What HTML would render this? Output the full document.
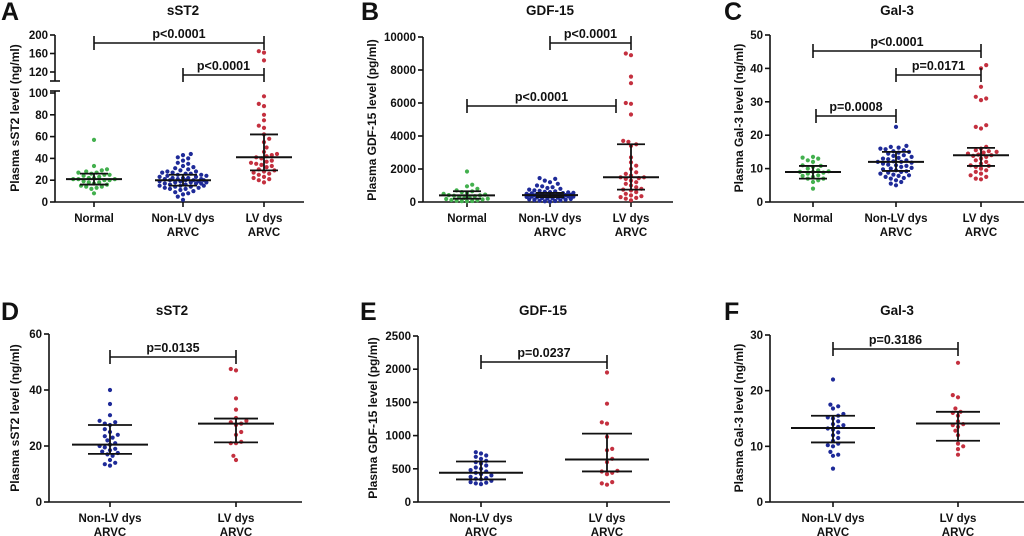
<!DOCTYPE html>
<html><head><meta charset="utf-8"><style>
html,body{margin:0;padding:0;background:#fff;}
svg{display:block;}
text{font-family:"Liberation Sans",Arial,sans-serif;font-weight:bold;fill:#111;}
</style></head>
<body>
<svg id="fig" width="1024" height="536" viewBox="0 0 1024 536" xmlns="http://www.w3.org/2000/svg"></svg>
<script>
// ===== Data =====
const catsTop = ["Normal", "Non-LV dys|ARVC", "LV dys|ARVC"];
const catsBottom = ["Non-LV dys|ARVC", "LV dys|ARVC"];

// Panel A sST2 (ng/ml)
const aNormal = [57,33,30,29,28,27,27,26,25,25,24,23,22,22,21,21,21,20,20,19,18,18,17,16,15,14,14,13,12,8];
const aNonLV = [44,43,41,40,38,36,35,33,32,31,30,29,28,28,27,27,26,26,25,25,24,24,23,23,22,22,22,21,21,21,20,20,20,20,19,19,19,18,18,18,17,17,17,16,16,15,15,15,14,14,13,13,12,12,11,10,9,8,7,5,2];
const aLV = [165,162,145,97,90,88,80,75,70,68,62,58,55,50,46,44,43,42,41,40,38,37,36,35,34,33,32,30,29,28,27,26,25,23,22,21,20,18];
const aMedian = [21,20,41];
const aQ1 = [16,15,29];
const aQ3 = [26,25,62];
const aTicksLow = [0,20,40,60,80,100];
const aTicksHigh = [120,160,200];

// Panel B GDF-15 (pg/ml)
const bNormal = [1850,1050,950,800,700,650,600,550,500,450,420,400,380,350,300,280,250,200,180,150,120,100,80,60,50,40];
const bNonLV = [1450,1400,1300,1200,1100,1000,950,900,850,800,750,700,680,650,620,600,580,560,540,520,500,480,470,460,450,440,430,420,410,400,390,380,370,360,350,340,330,320,310,300,280,260,240,220,200,180,160,140,120,100,80,60,40,20];
const bLV = [9000,8900,7600,7200,6000,5950,5300,3700,3650,3500,3400,2700,2400,2200,2000,1800,1700,1600,1500,1500,1450,1400,1300,1200,1100,1000,900,800,750,700,600,500,400,350,300,250,200,100];
const bMedian = [400,420,1500];
const bQ1 = [200,300,750];
const bQ3 = [650,550,3500];
const bTicks = [0,2000,4000,6000,8000,10000];

// Panel C Gal-3 (ng/ml)
const cNormal = [13.5,13.3,13,12.5,12,11,10.8,10.5,10,9.5,9.2,9,9,8.8,8.5,8,7.8,7.5,7,7,6.5,6,4];
const cNonLV = [22.5,16.8,16.5,16.3,16,15.8,15.5,15.2,15,14.8,14.5,14,13.8,13.5,13.2,13,12.8,12.5,12.2,12,12,11.8,11.5,11.2,11,10.8,10.5,10.2,10,9.8,9.5,9.2,9,8.8,8.5,8.2,8,7.8,7.5,7.2,7,6.5,6,5.5,5];
const cLV = [41,40,34.5,31.5,31,30.5,23,22.5,22,16.5,16,15.5,15.2,15,14.8,14.5,14.2,14,13.8,13.5,13,12.5,12,11.5,11,10.8,10.5,10,9.5,9,8.5,8,7.5,7,6.8];
const cMedian = [9,12,14];
const cQ1 = [7,9.3,10.8];
const cQ3 = [10.8,15,16.2];
const cTicks = [0,10,20,30,40,50];

// Panel D sST2
const dNonLV = [40,35,31,29,28.5,28,27.5,26,25,24,23.5,23,22,21,20.5,20,19.5,19,18.5,18,17.5,17,16.5,15,14,13.5,13];
const dLV = [47.5,47,37,33,30,29,28.5,28,27.5,25,24,21.5,21,21,16.5,15];
const dMedian = [20.5,28];
const dQ1 = [17.2,21.3];
const dQ3 = [27.5,29.8];
const dTicks = [0,20,40,60];

// Panel E GDF-15
const eNonLV = [750,730,700,680,650,620,600,580,550,520,500,480,460,440,420,400,380,360,350,340,320,300,290,280,270];
const eLV = [1950,1480,1200,1180,980,800,780,650,600,470,460,440,420,300,280,260];
const eMedian = [440,640];
const eQ1 = [340,460];
const eQ3 = [610,1030];
const eTicks = [0,500,1000,1500,2000,2500];

// Panel F Gal-3
const fNonLV = [22,17.5,17.2,16.8,15.8,15.5,15.2,15,14.5,14,13.8,13.5,13.2,13,12.5,12,11.5,11,10.5,10.2,10,9,8.5,8.3,6];
const fLV = [25,19.2,18.8,16.8,16.2,16,15.5,14.5,14,13.8,13.5,12.8,12,10.5,10,9.5,8.5];
const fMedian = [13.3,14.1];
const fQ1 = [10.7,11];
const fQ3 = [15.5,16.2];
const fTicks = [0,10,20,30];

// ===== Drawing =====
const NS = "http://www.w3.org/2000/svg";
const svg = document.getElementById("fig");
const COLORS = {Normal:"#43b04e", NonLV:"#1e2a98", LV:"#c4303f"};

function mk(tag, attrs, parent){
  const e = document.createElementNS(NS, tag);
  for (const k in attrs) e.setAttribute(k, attrs[k]);
  (parent||svg).appendChild(e);
  return e;
}
function line(g, x1,y1,x2,y2,w){
  return mk("line",{x1:x1,y1:y1,x2:x2,y2:y2,stroke:"#111","stroke-width":w||1.6},g);
}
function txt(g, x,y,s,size,anchor){
  const t = mk("text",{x:x,y:y,"font-size":size,"text-anchor":anchor||"middle"},g);
  t.textContent = s;
  return t;
}

// compact beeswarm capped at a maximum half-width
function swarm(vals, yfn, cx, r, cap){
  const pts = vals.map(v=>({y:yfn(v)})).sort((a,b)=>b.y-a.y);
  const placed = [];
  const d = 2*r+0.4;
  const step = 2.6;
  pts.forEach((p,idx)=>{
    let best = null, bestScore = -1;
    const n = Math.floor(cap/step);
    for (let k=0;k<=2*n;k++){
      const off = (k===0)?0:((k%2?1:-1)*Math.ceil(k/2)*step) * ((idx%2)?-1:1);
      const x = cx+off;
      let mind = 1e9;
      for (const q of placed){
        const dx=q.x-x, dy=q.y-p.y;
        const dd = Math.sqrt(dx*dx+dy*dy);
        if (dd<mind) mind=dd;
      }
      if (mind >= d){best=x;bestScore=1e9;break;}
      if (mind > bestScore){bestScore=mind;best=x;}
    }
    p.x = best;
    placed.push(p);
  });
  return placed;
}

function panel(cfg){
  const g = mk("g",{});
  
  
  const L = txt(g, cfg.letterX, cfg.top+20, cfg.letter, 25, "start");
  
  
  const T = txt(g, cfg.titleX, cfg.top+15, cfg.title, 13.5);
  
  
  const yt = txt(g, 0, 0, cfg.ytitle, 12);
  yt.setAttribute("transform", "translate("+(cfg.ytX+4)+","+cfg.ytY+") rotate(-90)");
  
  
  const ax = mk("g",{},g);
  
  
  cfg.axisSegs.forEach(s=>line(ax, cfg.x0, s[0], cfg.x0, s[1]));
  (cfg.stubs||[]).forEach(y=>line(ax, cfg.x0-5, y, cfg.x0+5, y));
  cfg.ticks.forEach(v=>{
    const y = cfg.y(v);
    line(ax, cfg.x0-5, y, cfg.x0, y);
    const tl = txt(ax, cfg.x0-7, y+4, String(v), 11.5, "end");
    
    
  });
  const xa = mk("g",{},g);
  
  
  line(xa, cfg.x0, cfg.base, cfg.x1, cfg.base);
  cfg.cats.forEach((c,i)=>{
    const x = cfg.gx[i];
    line(xa, x, cfg.base, x, cfg.base+5);
    c.split("|").forEach((p,j)=>{
      const t = txt(xa, x, cfg.base+20+j*14, p, 11.5);
      
      
    });
  });
  cfg.series.forEach((s,i)=>{
    const sg = mk("g",{},g);
    
    
    swarm(s.vals, cfg.y, cfg.gx[i], 2.1, cfg.cap).forEach(p=>{
      const c = mk("circle",{cx:p.x.toFixed(1),cy:p.y.toFixed(1),r:2.1,fill:COLORS[s.key]},sg);
      
      
    });
  });
  cfg.series.forEach((s,i)=>{
    const x = cfg.gx[i];
    const eg = mk("g",{},g);
    
    
    const ym = cfg.y(cfg.med[i]), y1 = cfg.y(cfg.q1[i]), y3 = cfg.y(cfg.q3[i]);
    line(eg, x-cfg.mw, ym, x+cfg.mw, ym, 2);
    line(eg, x-cfg.iw, y1, x+cfg.iw, y1, 1.8);
    line(eg, x-cfg.iw, y3, x+cfg.iw, y3, 1.8);
    line(eg, x, y1, x, y3, 1.8);
  });
  cfg.brackets.forEach(b=>{
    const bg = mk("g",{},g);
    
    
    line(bg, b.xa, b.y, b.xb, b.y);
    line(bg, b.xa, b.y-7, b.xa, b.y+7);
    line(bg, b.xb, b.y-7, b.xb, b.y+7);
    const t = txt(bg, (b.xa+b.xb)/2, b.y-5, b.text, 12.5);
    
    
  });
}

function yA(v){ return v<=100 ? 202 - v*1.09 : 72 - (v-120)*0.4625; }
panel({name:"panel-a-sst2", letter:"A", letterX:1, top:0, title:"sST2", titleX:183,
  ytitle:"Plasma sST2 level (ng/ml)", ytX:15, ytY:118,
  x0:55, x1:304, base:202, gx:[94,183,264], y:yA, cap:24,
  axisSegs:[[35,81],[91,202]], stubs:[81,91],
  ticks:aTicksLow.concat(aTicksHigh), cats:catsTop,
  series:[{key:"Normal",vals:aNormal},{key:"NonLV",vals:aNonLV},{key:"LV",vals:aLV}],
  med:aMedian, q1:aQ1, q3:aQ3, mw:28, iw:14,
  brackets:[{xa:94,xb:264,y:43,text:"p<0.0001"},{xa:183,xb:264,y:75,text:"p<0.0001"}]});

function yB(v){ return 202 - v*(165/10000); }
panel({name:"panel-b-gdf15", letter:"B", letterX:361, top:0, title:"GDF-15", titleX:550,
  ytitle:"Plasma GDF-15 level (pg/ml)", ytX:372, ytY:120,
  x0:423, x1:673, base:202, gx:[467,550,631], y:yB, cap:25,
  axisSegs:[[37,202]], ticks:bTicks, cats:catsTop,
  series:[{key:"Normal",vals:bNormal},{key:"NonLV",vals:bNonLV},{key:"LV",vals:bLV}],
  med:bMedian, q1:bQ1, q3:bQ3, mw:28, iw:14,
  brackets:[{xa:550,xb:631,y:43,text:"p<0.0001"},{xa:467,xb:616,y:106,text:"p<0.0001"}]});

function yC(v){ return 202 - v*(167/50); }
panel({name:"panel-c-gal3", letter:"C", letterX:724, top:0, title:"Gal-3", titleX:897,
  ytitle:"Plasma Gal-3 level (ng/ml)", ytX:739, ytY:118,
  x0:770, x1:1024, base:202, gx:[813,896,981], y:yC, cap:26,
  axisSegs:[[35,202]], ticks:cTicks, cats:catsTop,
  series:[{key:"Normal",vals:cNormal},{key:"NonLV",vals:cNonLV},{key:"LV",vals:cLV}],
  med:cMedian, q1:cQ1, q3:cQ3, mw:28, iw:14,
  brackets:[{xa:813,xb:981,y:51,text:"p<0.0001"},{xa:896,xb:981,y:75,text:"p=0.0171"},{xa:816,xb:896,y:116,text:"p=0.0008"}]});

function yD(v){ return 502 - v*(168/60); }
panel({name:"panel-d-sst2", letter:"D", letterX:1, top:300, title:"sST2", titleX:172,
  ytitle:"Plasma sST2 level (ng/ml)", ytX:15, ytY:418,
  x0:49, x1:302, base:502, gx:[110,236], y:yD, cap:14,
  axisSegs:[[334,502]], ticks:dTicks, cats:catsBottom,
  series:[{key:"NonLV",vals:dNonLV},{key:"LV",vals:dLV}],
  med:dMedian, q1:dQ1, q3:dQ3, mw:38, iw:22,
  brackets:[{xa:110,xb:236,y:357,text:"p=0.0135"}]});

function yE(v){ return 502 - v*(166/2500); }
panel({name:"panel-e-gdf15", letter:"E", letterX:360, top:300, title:"GDF-15", titleX:543,
  ytitle:"Plasma GDF-15 level (pg/ml)", ytX:373, ytY:418,
  x0:418, x1:670, base:502, gx:[481,607], y:yE, cap:14,
  axisSegs:[[336,502]], ticks:eTicks, cats:catsBottom,
  series:[{key:"NonLV",vals:eNonLV},{key:"LV",vals:eLV}],
  med:eMedian, q1:eQ1, q3:eQ3, mw:42, iw:25,
  brackets:[{xa:481,xb:607,y:362,text:"p=0.0237"}]});

function yF(v){ return 502 - v*(167/30); }
panel({name:"panel-f-gal3", letter:"F", letterX:724, top:300, title:"Gal-3", titleX:897,
  ytitle:"Plasma Gal-3 level (ng/ml)", ytX:739, ytY:418,
  x0:770, x1:1024, base:502, gx:[833,958], y:yF, cap:14,
  axisSegs:[[335,502]], ticks:fTicks, cats:catsBottom,
  series:[{key:"NonLV",vals:fNonLV},{key:"LV",vals:fLV}],
  med:fMedian, q1:fQ1, q3:fQ3, mw:42, iw:22,
  brackets:[{xa:833,xb:958,y:349,text:"p=0.3186"}]});
</script>
</body></html>
